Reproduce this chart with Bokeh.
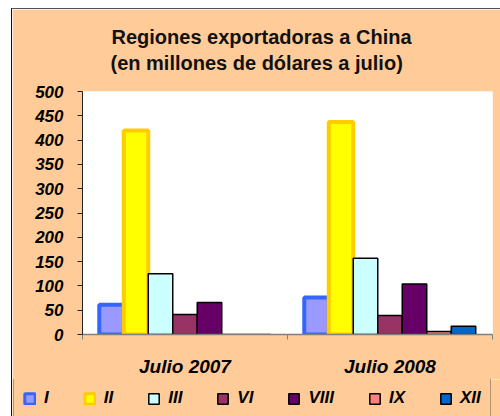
import numpy as np
from bokeh.plotting import figure
from bokeh.layouts import column, row
from bokeh.models import (ColumnDataSource, Range1d, FixedTicker, Title, Legend, LegendItem)
from bokeh.transform import dodge
from bokeh.embed import file_html
from bokeh.resources import INLINE

# ---- data ----
periods = ["Julio 2007", "Julio 2008"]
regions = ["I", "II", "III", "VI", "VIII", "IX", "XII"]
reg_I = [61, 76]
reg_II = [420, 437]
reg_III = [125, 157]
reg_VI = [41, 39]
reg_VIII = [66, 104]
reg_IX = [0, 6]
reg_XII = [0, 17]
y_ticks = [0, 50, 100, 150, 200, 250, 300, 350, 400, 450, 500]
title_1 = "Regiones exportadoras a China"
title_2 = "(en millones de dólares a julio)"

fills = ["#9999FF", "#FFFF00", "#CCFFFF", "#993366", "#660066", "#FF8080", "#0066CC"]
lines = ["#3366FF", "#FFCC00", "#000000", "#000000", "#000000", "#000000", "#000000"]
lwidths = [4, 4, 1.5, 1.5, 1.5, 1.5, 1.5]

series = [reg_I, reg_II, reg_III, reg_VI, reg_VIII, reg_IX, reg_XII]
pos = list(np.arange(len(periods)) + 0.5)
data = {"pos": pos}
for name, vals in zip(regions, series):
    data[name] = vals
source = ColumnDataSource(data)

FONT = "Liberation Sans"
BG = "#FFCC99"
W = 488

p = figure(width=W, height=370, output_backend="svg", toolbar_location=None,
           x_range=Range1d(0, len(periods)), y_range=Range1d(0, 500), title=None,
           min_border_left=70, min_border_right=8, min_border_top=82, min_border_bottom=37)
p.background_fill_color = "white"
p.border_fill_color = BG
p.outline_line_color = None
p.xgrid.visible = False
p.ygrid.visible = False

w = 0.1195
n = len(regions)
for i, name in enumerate(regions):
    off = (i - (n - 1) / 2) * w
    p.vbar(x=dodge("pos", off, range=p.x_range), top=name, width=w, source=source,
           fill_color=fills[i], line_color=lines[i], line_width=lwidths[i])

# x axis
xa = p.xaxis[0]
xa.ticker = FixedTicker(ticks=pos, minor_ticks=list(range(len(periods) + 1)))
xa.major_label_overrides = {float(v): lab for v, lab in zip(pos, periods)}
xa.major_tick_out = 0
xa.major_tick_in = 0
xa.minor_tick_out = 5
xa.minor_tick_in = 0
xa.minor_tick_line_color = "#808080"
xa.axis_line_color = "#808080"
xa.axis_line_width = 1.5
xa.major_label_standoff = 16
xa.major_label_text_font = FONT
xa.major_label_text_font_style = "bold italic"
xa.major_label_text_font_size = "19px"
xa.major_label_text_color = "black"

# y axis
ya = p.yaxis[0]
ya.ticker = FixedTicker(ticks=y_ticks)
ya.major_tick_out = 5
ya.major_tick_in = 0
ya.minor_tick_line_color = None
ya.axis_line_color = "#222222"
ya.major_tick_line_color = "#222222"
ya.major_label_standoff = 14
ya.major_label_text_font = FONT
ya.major_label_text_font_style = "bold italic"
ya.major_label_text_font_size = "17px"
ya.major_label_text_color = "black"

# titles (first added is closest to the plot)
p.add_layout(Title(text="\u00a0", text_font_size="1px", standoff=14), "above")
p.add_layout(Title(text=title_2, align="left", offset=28, text_font=FONT, text_font_style="bold",
                   text_font_size="20px", text_color="#111111", standoff=2), "above")
p.add_layout(Title(text=title_1, align="left", offset=29, text_font=FONT, text_font_style="bold",
                   text_font_size="20px", text_color="#111111", standoff=2), "above")

# legend strip (separate figure so the legend can span the full width);
# its bars use the same data but lie outside this strip's y range, so only the legend shows
lf = figure(width=W, height=37, output_backend="svg", toolbar_location=None, title=None,
            x_range=Range1d(0, len(periods)), y_range=Range1d(-2, -1),
            x_axis_location=None, y_axis_location=None,
            min_border_left=0, min_border_right=0, min_border_top=0, min_border_bottom=0)
lf.background_fill_color = BG
lf.border_fill_color = BG
lf.outline_line_color = None
lf.xgrid.visible = False
lf.ygrid.visible = False
items = []
for i, name in enumerate(regions):
    r = lf.vbar(x="pos", top=name, width=w, source=source, fill_color=fills[i],
                line_color=lines[i], line_width=min(lwidths[i], 3))
    items.append(LegendItem(label=name, renderers=[r]))
legend = Legend(items=items, orientation="horizontal", location=(1, -2), margin=0, padding=9,
                spacing=34, glyph_width=13, glyph_height=13, label_standoff=8, label_width=1,
                label_text_font=FONT, label_text_font_style="bold italic",
                label_text_font_size="17px", label_text_color="black",
                background_fill_color=BG, background_fill_alpha=1,
                border_line_color="#6B5A45", border_line_width=1.5)
lf.add_layout(legend, "center")

layout = column(p, row(lf), spacing=0, margin=(8, 0, 0, 11),
                styles={"border-top": "1px solid #555555", "border-left": "1px solid #111111"})
open("out.html", "w").write(file_html(layout, INLINE))
